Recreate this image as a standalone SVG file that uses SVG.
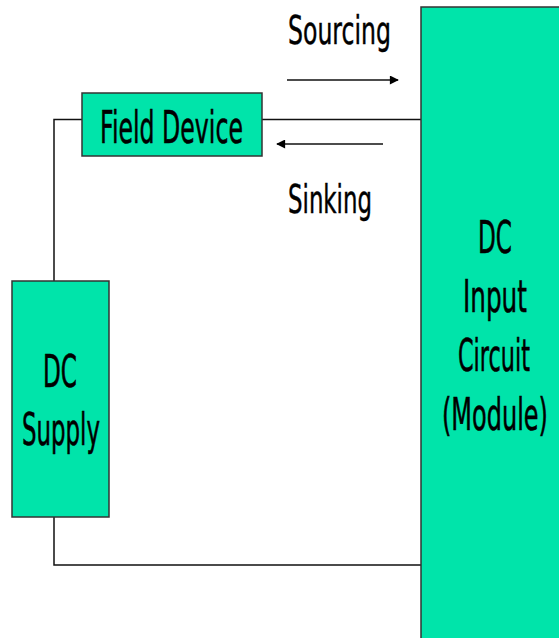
<svg xmlns="http://www.w3.org/2000/svg" width="559" height="638" viewBox="0 0 559 638">
<style>
.box{fill:#00E4AA;stroke:#333;stroke-width:1.5}
.wire{fill:none;stroke:#111;stroke-width:1.5}
.t{font-family:"DejaVu Sans","Liberation Sans",Arial,sans-serif;fill:#000;font-size:45px;stroke:#000;stroke-width:0.6}
.lbl{font-family:"DejaVu Sans","Liberation Sans",Arial,sans-serif;fill:#000;font-size:39px;stroke:#000;stroke-width:0.5}
</style>
<defs>
<marker id="ah" viewBox="0 0 10 10" refX="9" refY="5" markerWidth="10" markerHeight="9" markerUnits="userSpaceOnUse" orient="auto">
<path d="M0,0 L10,5 L0,10 z" fill="#000"/>
</marker>
</defs>
<rect width="559" height="638" fill="#fff"/>
<g id="connectors">
<polyline class="wire" points="262,119.5 421,119.5"/>
<polyline class="wire" points="82,119.5 54,119.5 54,281"/>
<polyline class="wire" points="54,517 54,565 421,565"/>
<line class="wire" x1="287" y1="80" x2="398" y2="80" marker-end="url(#ah)"/>
<line class="wire" x1="383" y1="144" x2="277" y2="144" marker-end="url(#ah)"/>
</g>
<g id="labels">
<text class="lbl" transform="translate(288,44) scale(0.6,1)" textLength="171.7" lengthAdjust="spacingAndGlyphs">Sourcing</text>
<text class="lbl" transform="translate(288,213) scale(0.6,1)" textLength="140" lengthAdjust="spacingAndGlyphs">Sinking</text>
</g>
<g id="module">
<rect class="box" x="421" y="7" width="150" height="640"/>
<text class="t" transform="translate(478,253) scale(0.52,1)" textLength="65.4" lengthAdjust="spacingAndGlyphs">DC</text>
<text class="t" transform="translate(463,312) scale(0.52,1)" textLength="123" lengthAdjust="spacingAndGlyphs">Input</text>
<text class="t" transform="translate(458,371) scale(0.52,1)" textLength="138.5" lengthAdjust="spacingAndGlyphs">Circuit</text>
<text class="t" transform="translate(442,430) scale(0.52,1)" textLength="203.8" lengthAdjust="spacingAndGlyphs">(Module)</text>
</g>
<g id="field-device">
<rect class="box" x="82" y="93" width="180" height="63"/>
<text class="t" transform="translate(100,143) scale(0.52,1)" textLength="275" lengthAdjust="spacingAndGlyphs">Field Device</text>
</g>
<g id="dc-supply">
<rect class="box" x="12" y="281" width="97" height="236"/>
<text class="t" transform="translate(43,387) scale(0.52,1)" textLength="65.4" lengthAdjust="spacingAndGlyphs">DC</text>
<text class="t" transform="translate(22,445) scale(0.52,1)" textLength="150" lengthAdjust="spacingAndGlyphs">Supply</text>
</g>
</svg>
